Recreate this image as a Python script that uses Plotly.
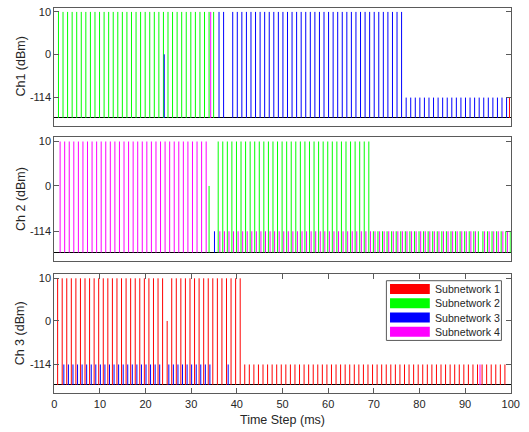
import plotly.graph_objects as go

# ---------------- data ----------------
steps = list(range(1, 101))
subnetworks = ["Subnetwork 1", "Subnetwork 2", "Subnetwork 3", "Subnetwork 4"]
channel_titles = ["Ch1 (dBm)", "Ch 2 (dBm)", "Ch 3 (dBm)"]
power_ticks = [-114, 0, 10]
power_tick_text = ["-114", "0", "10"]
x_ticks = [0, 10, 20, 30, 40, 50, 60, 70, 80, 90, 100]

# per time step transmit power code: H = 10 dBm, M = 0 dBm, L = -114 dBm, "." = not on this channel
code_dbm = {"H": 10, "M": 0, "L": -114}

ch1_sub1 = ".........." ".........." ".........." ".........." ".........." ".........." ".........." ".........." ".........." ".........L"
ch1_sub2 = "HHHHHHHHHH" "HHHHHHHHHH" "HHHHHHHHHH" "HHHHH....." ".........." ".........." ".........." ".........." ".........." ".........."
ch1_sub3 = ".........." ".........." "...M......" ".....HH.HH" "HHHHHHHHHH" "HHHHHHHHHH" "HHHHHHHHHH" "HHHHHHLLLL" "LLLLLLLLLL" "LLLLLLLLL."
ch1_sub4 = ".........." ".........." ".........." "...H......" ".........." ".........." ".........." ".........." ".........." ".........."

ch2_sub1 = ".........." ".........." ".........." ".........." ".........." ".........." ".........." ".........." ".........." ".........."
ch2_sub2 = ".........." ".........." ".........." "...M.HHHHH" "HHHHHHHHHH" "HHHHHHHHHH" "HHHHHHHHHL" "LLLLLLLLLL" "LLLLLLLLLL" "LLLLLLLLLL"
ch2_sub3 = ".........." ".........." ".........." "....L....." ".........." ".........." ".........." ".........." ".........." ".........."
ch2_sub4 = "HHHHHHHHHH" "HHHHHHHHHH" "HHHHHHHHHH" "HHH..LLLLL" "LLLLLLLLLL" "LLLLLLLLLL" "LLLLLLLLLL" "LLLLLLLLLL" "LLLLLLLLLL" "LL.LLLLLLL"

ch3_sub1 = "HHHHHHHHHH" "HHHHHHHHHH" "HHHHMHHHHH" "HHHHHHHHHH" "HLLLLLLLLL" "LLLLLLLLLL" "LLLLLLLLLL" "LLLLLLLLLL" "LLLLLLLLLL" "LLLLLLLLL."
ch3_sub2 = ".........." ".........." ".........." ".........." ".........." ".........." ".........." ".........." ".........." ".........."
ch3_sub3 = ".LLLLLLLLL" "LLLLLLLLLL" "LLL.LLLLLL" "LLLL...L.." ".........." ".........." ".........." ".........." ".........." ".........."
ch3_sub4 = ".........." ".........." ".........." ".........." ".........." ".........." ".........." ".........." ".........." "..L......."

channels = [
    [ch1_sub1, ch1_sub2, ch1_sub3, ch1_sub4],
    [ch2_sub1, ch2_sub2, ch2_sub3, ch2_sub4],
    [ch3_sub1, ch3_sub2, ch3_sub3, ch3_sub4],
]

# ---------------- style ----------------
colors = ["#ff0000", "#00ff00", "#0000ff", "#ff00ff"]
# the axis is drawn on an ordinal power scale (levels), labelled in dBm
axis_level = {10: 2.5, 0: 1.5, -114: 0.48}
group_offsets = [-0.273, -0.091, 0.091, 0.273]
W, H = 529, 432
FONT = "Liberation Sans, Arial, Helvetica, sans-serif"
TXT = "#262626"
AX = "#5a5a5a"

def px_x(p):
    return p / W

def px_y(p):
    return 1 - p / H

x_dom = [px_x(52.5), px_x(519.5)]
y_doms = [
    [px_y(125.0), px_y(5.7)],
    [px_y(260.7), px_y(135.7)],
    [px_y(393.3), px_y(273.3)],
]

fig = go.Figure()
for c, series in enumerate(channels):
    xa = "x" if c == 0 else f"x{c + 1}"
    ya = "y" if c == 0 else f"y{c + 1}"
    for k, codes in enumerate(series):
        # thin grouped bars: a vertical stem per time step from the baseline to the level
        xs, ys = [], []
        for t, ch in zip(steps, codes):
            if ch in code_dbm:
                xpos = t + group_offsets[k]
                xs += [xpos, xpos, None]
                ys += [0, axis_level[code_dbm[ch]], None]
        if not xs:
            continue
        fig.add_trace(go.Scatter(
            x=xs, y=ys, mode="lines",
            line=dict(color=colors[k], width=1),
            name=subnetworks[k], showlegend=False,
            xaxis=xa, yaxis=ya, hoverinfo="skip",
        ))

layout = dict(
    width=W, height=H,
    margin=dict(l=0, r=0, t=0, b=0),
    paper_bgcolor="white", plot_bgcolor="white",
    font=dict(family=FONT, size=11, color=TXT),
    showlegend=False,
)
for c in range(3):
    sx = "" if c == 0 else str(c + 1)
    last = c == 2
    layout["xaxis" + sx] = dict(
        domain=x_dom, range=[0, 100], anchor="y" + sx,
        showline=True, linecolor=AX, linewidth=1, mirror="ticks" if last else True,
        ticks="inside" if last else "", ticklen=5, tickcolor=AX,
        tickvals=x_ticks if last else [], showticklabels=last,
        tickfont=dict(size=11, color=TXT), showgrid=False, zeroline=False,
    )
    layout["yaxis" + sx] = dict(
        domain=y_doms[c], range=[-0.2, 2.6], anchor="x" + sx,
        showline=True, linecolor=AX, linewidth=1, mirror="ticks",
        ticks="inside", ticklen=5, tickcolor=AX,
        tickvals=[axis_level[v] for v in power_ticks], ticktext=power_tick_text,
        tickfont=dict(size=11, color=TXT), showgrid=False,
        zeroline=True, zerolinecolor="#000000", zerolinewidth=1,
    )

annotations = []
title_centres = [(18.3, 65.0), (18.3, 198.0), (18.3, 333.0)]
for c in range(3):
    cx, cy = title_centres[c]
    annotations.append(dict(
        text=channel_titles[c], x=px_x(cx), y=px_y(cy), xref="paper", yref="paper",
        textangle=-90, showarrow=False, font=dict(size=12.5, color=TXT),
        xanchor="center", yanchor="middle",
    ))
annotations.append(dict(
    text="Time Step (ms)", x=px_x(286), y=px_y(420), xref="paper", yref="paper",
    showarrow=False, font=dict(size=12.5, color=TXT), xanchor="center", yanchor="middle",
))

# legend box drawn inside the third panel
shapes = [dict(type="rect", xref="paper", yref="paper",
               x0=px_x(392.3), x1=px_x(510), y0=px_y(340), y1=px_y(280),
               line=dict(color=AX, width=1), fillcolor="white", layer="above")]
row_y = [288.3, 302.7, 317.0, 331.3]
for k in range(4):
    yc = row_y[k]
    shapes.append(dict(type="rect", xref="paper", yref="paper",
                       x0=px_x(396), x1=px_x(436.7), y0=px_y(yc + 5), y1=px_y(yc - 5),
                       line=dict(width=0), fillcolor=colors[k], layer="above"))
    annotations.append(dict(
        text=subnetworks[k], x=px_x(440.3), y=px_y(yc), xref="paper", yref="paper",
        showarrow=False, font=dict(size=10.6, color=TXT), xanchor="left", yanchor="middle",
    ))

layout["annotations"] = annotations
layout["shapes"] = shapes
fig.update_layout(**layout)
fig.write_html("out.html")
